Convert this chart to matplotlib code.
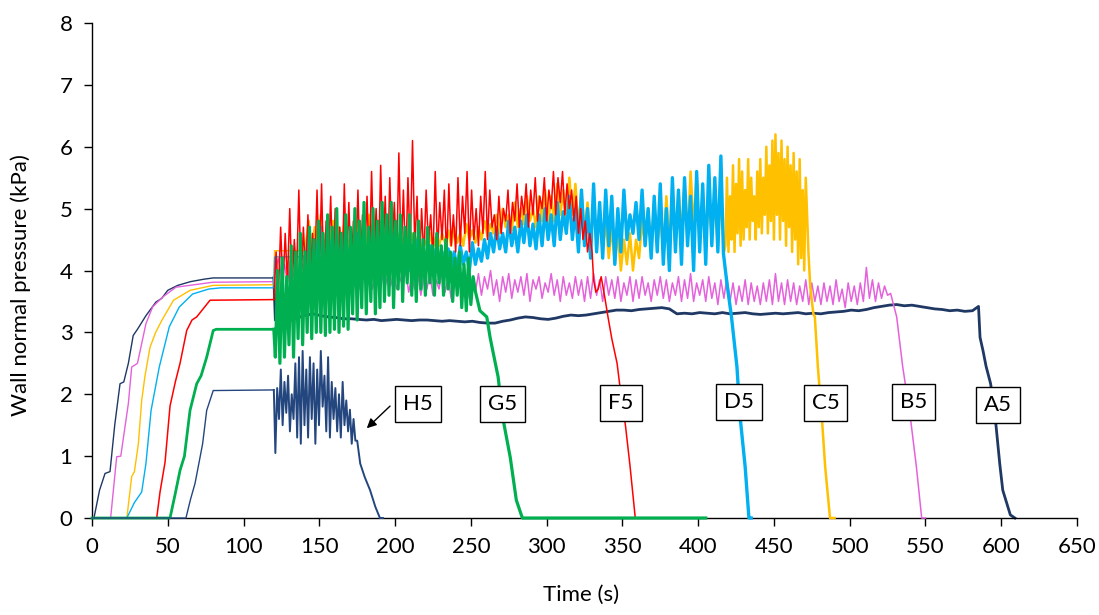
import numpy as np
import matplotlib
matplotlib.use("Agg")
import matplotlib.pyplot as plt

plt.rcParams['font.family'] = ['Lato', 'DejaVu Sans']

# ---- data (time in s, pressure in kPa) ----
# each series: filling ramp (t, v), noisy discharge body (start, step, values), final drop (t, v)

A5_ramp_t = [0, 1.3, 5, 8.6, 11.9, 15, 18.5, 21, 24, 27.2, 30, 35.6, 42.2, 46, 50, 56.6, 65, 74, 80, 120]
A5_ramp_v = [0, 0, 0.45, 0.72, 0.75, 1.5, 2.17, 2.2, 2.5, 2.95, 3.05, 3.27, 3.49, 3.55, 3.68, 3.76, 3.82, 3.86, 3.88, 3.88]
A5_body_start, A5_body_dt = 121, 5
A5_body_v = [3.2, 3.22, 3.2, 3.24, 3.28, 3.3, 3.27, 3.25, 3.24, 3.22,
             3.22, 3.21, 3.2, 3.21, 3.19, 3.2, 3.21, 3.2, 3.19, 3.2,
             3.2, 3.19, 3.18, 3.19, 3.18, 3.17, 3.18, 3.16, 3.15, 3.15,
             3.18, 3.2, 3.23, 3.25, 3.24, 3.22, 3.21, 3.23, 3.26, 3.28,
             3.27, 3.28, 3.3, 3.32, 3.34, 3.36, 3.36, 3.35, 3.37, 3.38,
             3.39, 3.4, 3.38, 3.3, 3.31, 3.3, 3.32, 3.31, 3.3, 3.32,
             3.3, 3.31, 3.32, 3.3, 3.29, 3.3, 3.31, 3.3, 3.31, 3.32,
             3.3, 3.31, 3.3, 3.32, 3.33, 3.34, 3.36, 3.35, 3.37, 3.4,
             3.42, 3.44, 3.45, 3.43, 3.44, 3.42, 3.4, 3.38, 3.37, 3.35,
             3.36, 3.34, 3.35]
A5_tail_t = [585, 586, 588, 590, 593, 596, 599, 601, 606, 609]
A5_tail_v = [3.42, 2.92, 2.7, 2.45, 2.17, 1.63, 0.88, 0.45, 0.05, 0.0]

B5_ramp_t = [0, 12.3, 16.3, 19, 24, 26.2, 30, 35.6, 40, 46.6, 55.4, 79.6, 120]
B5_ramp_v = [0, 0, 0.99, 1.0, 1.85, 2.44, 2.5, 3.14, 3.41, 3.57, 3.73, 3.81, 3.82]
B5_body_start, B5_body_dt = 121, 2
B5_body_v = [4.0, 4.2, 3.9, 4.1, 3.8, 4.2, 3.9, 4.0, 3.8, 4.1,
             3.9, 4.2, 3.8, 4.0, 3.9, 4.1, 3.7, 4.0, 3.8, 4.1,
             3.7, 4.0, 3.8, 4.1, 3.7, 3.95, 3.75, 4.0, 3.7, 3.9,
             3.75, 3.95, 3.7, 3.9, 3.8, 4.0, 3.7, 3.9, 3.75, 3.95,
             3.7, 3.9, 3.75, 4.0, 3.65, 3.9, 3.7, 3.95, 3.6, 3.9,
             3.7, 3.95, 3.6, 3.85, 3.7, 4.0, 3.65, 3.9, 3.55, 3.85,
             3.7, 3.95, 3.6, 3.9, 3.55, 3.85, 3.65, 3.95, 3.6, 3.9,
             3.7, 4.0, 3.6, 3.85, 3.5, 3.9, 3.65, 3.95, 3.55, 3.85,
             3.65, 3.9, 3.6, 3.95, 3.5, 3.85, 3.7, 3.9, 3.55, 3.8,
             3.65, 3.95, 3.6, 3.85, 3.5, 3.9, 3.6, 3.8, 3.55, 3.9,
             3.6, 3.85, 3.5, 3.9, 3.55, 3.95, 3.6, 3.85, 3.5, 3.9,
             3.6, 3.85, 3.55, 3.9, 3.5, 3.8, 3.6, 3.9, 3.5, 3.85,
             3.55, 3.9, 3.6, 3.8, 3.5, 3.85, 3.6, 3.9, 3.55, 3.85,
             3.5, 3.8, 3.6, 3.9, 3.5, 3.85, 3.55, 3.95, 3.5, 3.8,
             3.6, 3.85, 3.5, 3.9, 3.55, 3.8, 3.45, 3.85, 3.55, 3.9,
             3.5, 3.8, 3.45, 3.75, 3.5, 3.85, 3.45, 3.8, 3.5, 3.75,
             3.45, 3.8, 3.5, 3.85, 3.45, 3.95, 3.5, 3.8, 3.45, 3.85,
             3.5, 3.8, 3.45, 3.75, 3.5, 3.85, 3.45, 3.8, 3.5, 3.75,
             3.45, 3.8, 3.5, 3.75, 3.45, 3.85, 3.5, 3.7, 3.4, 3.8,
             3.5, 3.75, 3.45, 3.8, 3.5, 4.05, 3.55, 3.85, 3.5, 3.8,
             3.55, 3.75, 3.6]
B5_tail_t = [527, 531, 535, 540, 544, 547.5, 550]
B5_tail_v = [3.63, 3.25, 2.44, 1.63, 0.83, 0.0, 0.0]

C5_ramp_t = [0, 23, 26.2, 28, 30.6, 32.8, 35, 38.3, 42, 46, 53.8, 64.8, 80, 120, 120.5, 140]
C5_ramp_v = [0, 0, 0.67, 0.75, 1.2, 1.9, 2.3, 2.76, 3.0, 3.19, 3.52, 3.68, 3.76, 3.77, 4.32, 4.32]
C5_body_start, C5_body_dt = 141, 2
C5_body_v = [4.4, 4.8, 4.3, 4.7, 4.4, 4.9, 4.3, 4.6, 4.4, 4.8,
             4.3, 4.7, 4.4, 4.9, 4.3, 4.6, 4.4, 4.8, 4.3, 4.7,
             4.4, 4.9, 4.3, 4.6, 4.4, 4.8, 4.3, 4.7, 4.4, 4.9,
             4.3, 4.6, 4.4, 4.7, 4.3, 4.6, 4.4, 4.55, 4.35, 4.5,
             4.4, 4.6, 4.35, 4.55, 4.4, 4.6, 4.45, 4.65, 4.4, 4.7,
             4.45, 4.6, 4.4, 4.75, 4.5, 4.65, 4.45, 4.7, 4.5, 4.8,
             4.55, 4.75, 4.6, 4.9, 4.6, 5.0, 4.7, 4.9, 4.65, 5.1,
             4.7, 5.0, 4.75, 5.2, 4.8, 5.0, 4.7, 5.2, 4.8, 5.3,
             4.75, 5.2, 4.8, 5.4, 4.9, 5.3, 4.8, 5.5, 4.9, 5.4,
             4.7, 5.3, 4.6, 5.1, 4.5, 5.0, 4.4, 4.9, 4.3, 4.8,
             4.2, 4.7, 4.1, 4.6, 4.0, 4.5, 4.1, 4.6, 4.0, 4.5,
             4.2, 4.8, 4.4, 5.0, 4.3, 5.1, 4.4, 4.9, 4.3, 5.2,
             4.5, 5.0, 4.4, 5.3, 4.6, 5.4, 4.5, 5.6, 4.7, 5.5,
             4.5, 5.2, 4.4, 5.3, 4.5, 5.1, 4.4, 5.2, 4.3]
# last burst after D5 has emptied, sampled every second
C5_burst_start, C5_burst_dt = 418, 1
C5_burst_v = [4.4, 5.5, 4.3, 5.2, 4.5, 5.7, 4.3, 5.4, 4.6, 5.8,
              4.4, 5.6, 4.5, 5.3, 4.7, 5.8, 4.5, 5.5, 4.8, 5.2,
              4.5, 5.6, 4.7, 5.8, 4.6, 5.5, 4.9, 6.0, 4.6, 5.7,
              4.8, 6.1, 4.5, 6.2, 4.9, 5.9, 4.5, 6.1, 4.8, 5.8,
              4.4, 6.0, 4.7, 5.7, 4.3, 5.9, 4.5, 5.6, 4.1, 5.8,
              4.2, 5.3, 4.0, 5.5]
C5_tail_t = [472.8, 474, 476, 477, 479, 481.6, 483.8, 487, 490]
C5_tail_v = [4.27, 3.73, 3.3, 3.25, 2.44, 1.63, 0.83, 0.0, 0.0]

D5_ramp_t = [0, 23, 28, 32.8, 35.6, 39, 44.4, 51, 57.6, 66.4, 77, 85, 120, 120.5, 140]
D5_ramp_v = [0, 0, 0.25, 0.42, 0.88, 1.74, 2.44, 3.09, 3.41, 3.62, 3.7, 3.72, 3.72, 4.22, 4.22]
D5_body_start, D5_body_dt = 141, 2
D5_body_v = [4.1, 4.6, 4.0, 4.5, 4.1, 4.7, 4.0, 4.5, 4.2, 4.6,
             4.0, 4.4, 4.1, 4.7, 4.0, 4.5, 4.2, 4.6, 4.1, 4.4,
             4.0, 4.5, 4.1, 4.6, 4.2, 4.4, 4.0, 4.5, 4.1, 4.6,
             4.0, 4.4, 4.1, 4.5, 4.0, 4.4, 4.1, 4.5, 4.0, 4.3,
             4.1, 4.4, 4.0, 4.35, 4.05, 4.3, 4.0, 4.35, 4.05, 4.3,
             4.0, 4.4, 4.1, 4.3, 4.0, 4.45, 4.1, 4.35, 4.15, 4.5,
             4.2, 4.6, 4.3, 4.7, 4.35, 4.6, 4.3, 4.8, 4.4, 4.7,
             4.3, 4.8, 4.45, 4.9, 4.4, 4.75, 4.35, 4.9, 4.4, 5.0,
             4.5, 4.9, 4.4, 5.1, 4.5, 4.95, 4.6, 5.2, 4.5, 5.0,
             4.3, 5.3, 4.4, 5.0, 4.2, 5.4, 4.3, 5.1, 4.2, 5.3,
             4.4, 5.2, 4.1, 5.0, 4.3, 5.3, 4.5, 4.9, 4.6, 5.1,
             4.5, 5.3, 4.4, 5.0, 4.2, 5.2, 4.3, 5.4, 4.1, 5.0,
             4.0, 5.5, 4.3, 5.3, 4.1, 5.5, 4.4, 5.2, 4.0, 5.6,
             4.3, 5.4, 4.1, 5.7, 4.4, 5.5, 4.3, 5.85]
D5_tail_t = [416.7, 419, 422, 425.6, 427.7, 431, 433.5, 435]
D5_tail_v = [4.27, 3.79, 3.25, 2.44, 1.63, 0.83, 0.0, 0.0]

F5_ramp_t = [0, 42.7, 44.9, 48.2, 51.5, 55, 58.1, 62.5, 66, 69.1, 74, 77.9, 120]
F5_ramp_v = [0, 0, 0.42, 0.9, 1.81, 2.2, 2.5, 3.03, 3.2, 3.25, 3.4, 3.52, 3.53]
F5_body_start, F5_body_dt = 121.5, 1.5
F5_body_v = [4.3, 3.6, 4.7, 3.7, 4.6, 3.8, 5.0, 3.7, 4.5, 3.9,
             5.3, 3.8, 4.7, 3.9, 4.9, 3.7, 4.6, 4.0, 5.3, 3.9,
             5.4, 3.8, 4.8, 4.1, 5.2, 3.9, 5.0, 4.0, 4.7, 3.8,
             5.4, 4.0, 5.1, 3.9, 4.8, 4.1, 5.3, 3.9, 4.9, 4.2,
             5.2, 4.0, 5.6, 4.1, 5.0, 4.0, 5.7, 4.2, 5.2, 3.9,
             5.5, 4.3, 5.1, 4.1, 5.9, 4.2, 5.3, 4.0, 5.5, 4.3,
             6.1, 4.4, 5.2, 3.9, 5.0, 4.2, 5.3, 4.4, 4.9, 4.2,
             5.6, 4.3, 5.1, 4.5, 5.3, 4.2, 5.4, 4.4, 4.9, 4.3,
             5.5, 4.4, 5.2, 4.6, 5.6, 4.3, 5.3, 4.5, 5.0, 4.4,
             5.2, 4.6, 5.6, 4.5, 5.3, 4.7, 4.9, 4.5, 5.2, 4.6,
             5.0, 4.8, 5.3, 4.6, 5.1, 4.8, 5.4, 4.7, 5.2, 4.9,
             5.4, 4.7, 5.3, 4.9, 5.5, 4.8, 5.2, 5.0, 5.5, 4.8,
             5.3, 5.0, 5.6, 4.9, 5.5, 5.1, 5.6, 4.9, 5.4, 5.0,
             5.3, 4.8, 5.2, 4.6, 5.0, 4.5, 4.8, 4.3, 4.6]
F5_tail_t = [330, 331, 332.5, 334, 336, 338.5, 340.5, 343, 346.5, 349, 352, 355, 358.5]
F5_tail_v = [4.3, 3.85, 3.65, 3.7, 3.9, 3.55, 3.25, 2.9, 2.5, 2.0, 1.5, 0.85, 0.0]

G5_ramp_t = [0, 51.5, 55, 58.1, 61, 64.7, 69.1, 72, 75.7, 80, 82, 120]
G5_ramp_v = [0, 0, 0.4, 0.77, 1.0, 1.74, 2.17, 2.3, 2.6, 3.03, 3.05, 3.05]
G5_body_start, G5_body_dt = 121, 1.5
G5_body_v = [2.6, 4.0, 2.5, 4.2, 2.6, 3.9, 2.8, 4.4, 2.6, 4.3,
             2.9, 4.6, 2.8, 4.3, 3.0, 4.7, 2.9, 4.5, 3.0, 4.8,
             3.0, 4.6, 2.95, 4.9, 3.0, 4.7, 3.05, 5.0, 3.0, 4.6,
             3.1, 4.9, 3.05, 4.7, 3.3, 5.0, 3.2, 4.8, 3.4, 5.1,
             3.3, 4.7, 3.5, 5.0, 3.3, 4.8, 3.4, 5.1, 3.5, 4.9,
             3.6, 5.1, 3.4, 4.8, 3.7, 4.9, 3.5, 4.7, 3.8, 4.9,
             3.6, 4.6, 3.5, 4.8, 3.7, 4.5, 3.6, 4.7, 3.8, 4.4,
             3.6, 4.6, 3.8, 4.4, 3.6, 4.5, 3.7, 4.3, 3.5, 4.2,
             3.6, 4.3, 3.4, 4.1, 3.35, 4.2, 3.45, 3.9]
G5_tail_t = [253, 256, 260.5, 262.7, 264, 268, 271, 276, 280, 284, 405]
G5_tail_v = [3.66, 3.35, 3.25, 2.92, 2.76, 2.28, 1.63, 0.98, 0.29, 0.0, 0.0]

H5_ramp_t = [0, 62, 65, 68, 71.3, 73, 75.7, 80, 120]
H5_ramp_v = [0, 0, 0.3, 0.56, 0.98, 1.2, 1.74, 2.06, 2.07]
H5_body_start, H5_body_dt = 121, 1.2
H5_body_v = [1.05, 2.1, 1.6, 2.4, 1.5, 2.2, 1.7, 2.3, 1.4, 2.0,
             1.6, 2.5, 1.3, 2.6, 1.2, 2.7, 1.5, 2.4, 1.3, 2.6,
             1.6, 2.5, 1.2, 2.4, 1.5, 2.7, 1.8, 2.3, 1.4, 2.6,
             1.3, 2.2, 1.6, 2.1, 1.4, 2.0, 1.3, 2.2, 1.5, 1.9,
             1.4, 1.75, 1.2, 1.6, 1.25]
H5_tail_t = [175, 177, 180, 183.5, 187, 190, 192]
H5_tail_v = [1.25, 0.88, 0.66, 0.45, 0.18, 0.0, 0.0]

labels = ["A5", "B5", "C5", "D5", "F5", "G5", "H5"]
label_t = [598, 542, 484, 427, 349, 271, 215]
label_v = [1.83, 1.88, 1.86, 1.88, 1.86, 1.84, 1.84]


def series(ramp_t, ramp_v, bodies, tail_t, tail_v):
    ts, vs = [[ramp_t[-1]]], [[ramp_v[-1]]]
    for start, dt, vals in bodies:
        ts.append(start + dt * np.arange(len(vals)))
        vs.append(vals)
    ts.append(tail_t)
    vs.append(tail_v)
    return (np.array(ramp_t), np.array(ramp_v)), (np.concatenate(ts), np.concatenate(vs))


data = {
    "A5": series(A5_ramp_t, A5_ramp_v, [(A5_body_start, A5_body_dt, A5_body_v)], A5_tail_t, A5_tail_v),
    "B5": series(B5_ramp_t, B5_ramp_v, [(B5_body_start, B5_body_dt, B5_body_v)], B5_tail_t, B5_tail_v),
    "C5": series(C5_ramp_t, C5_ramp_v, [(C5_body_start, C5_body_dt, C5_body_v),
                                        (C5_burst_start, C5_burst_dt, C5_burst_v)], C5_tail_t, C5_tail_v),
    "D5": series(D5_ramp_t, D5_ramp_v, [(D5_body_start, D5_body_dt, D5_body_v)], D5_tail_t, D5_tail_v),
    "F5": series(F5_ramp_t, F5_ramp_v, [(F5_body_start, F5_body_dt, F5_body_v)], F5_tail_t, F5_tail_v),
    "G5": series(G5_ramp_t, G5_ramp_v, [(G5_body_start, G5_body_dt, G5_body_v)], G5_tail_t, G5_tail_v),
    "H5": series(H5_ramp_t, H5_ramp_v, [(H5_body_start, H5_body_dt, H5_body_v)], H5_tail_t, H5_tail_v),
}

# colour, ramp width, body width
style = {
    "A5": ("#1f3864", 1.0, 2.0),
    "B5": ("#e462dc", 1.0, 1.1),
    "C5": ("#ffc000", 1.0, 1.8),
    "D5": ("#00b0f0", 1.0, 2.4),
    "F5": ("#ff0000", 1.1, 1.1),
    "G5": ("#00b050", 2.0, 2.3),
    "H5": ("#24467f", 1.0, 1.4),
}

fig = plt.figure(figsize=(10.99, 6.15), dpi=100)
ax = fig.add_axes([0.0837, 0.1577, 0.8963, 0.8049])

for z, name in enumerate(labels):
    (rt, rv), (bt, bv) = data[name]
    col, lw_r, lw_b = style[name]
    ax.plot(rt, rv, color=col, lw=lw_r, zorder=2 + z, clip_on=False)
    ax.plot(bt, bv, color=col, lw=lw_b, zorder=2 + z, clip_on=False)

for name, t, v in zip(labels, label_t, label_v):
    ax.text(t, v, name, fontsize=16, ha="center", va="center", zorder=20,
            bbox=dict(boxstyle="square,pad=0.36", fc="white", ec="black", lw=1))

ax.annotate("", xy=(180, 1.42), xytext=(198, 1.84),
            arrowprops=dict(arrowstyle="-|>", color="black", lw=1, mutation_scale=14),
            zorder=21)

ax.set_xlim(0, 650)
ax.set_ylim(0, 8)
ax.set_xticks(np.arange(0, 651, 50))
ax.set_yticks(np.arange(0, 9, 1))
ax.tick_params(axis="both", direction="out", length=6, width=1, labelsize=16, pad=8)
for s in ["top", "right"]:
    ax.spines[s].set_visible(False)
for s in ["left", "bottom"]:
    ax.spines[s].set_linewidth(1)
    ax.spines[s].set_color("black")

ax.set_xlabel("Time (s)", fontsize=16)
ax.set_ylabel("Wall normal pressure (kPa)", fontsize=16)
ax.xaxis.set_label_coords(0.497, -0.135)
ax.yaxis.set_label_coords(-0.062, 0.47)

fig.savefig("out.png", dpi=100)
